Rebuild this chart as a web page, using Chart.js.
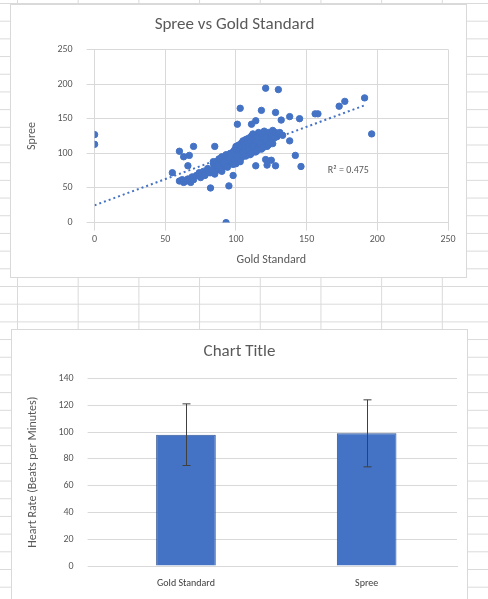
<!DOCTYPE html>
<html><head><meta charset="utf-8">
<script src="https://cdn.jsdelivr.net/npm/chart.js@4"></script>
<style>
html,body{margin:0;padding:0;width:488px;height:599px;overflow:hidden;font-family:Calibri,Carlito,"Open Sans",sans-serif;
background-color:#fff;
background-image:linear-gradient(to right,#dadada 1px,transparent 1px),linear-gradient(to bottom,#dadada 1px,transparent 1px);
background-size:60.7px 17.7px;background-position:17px 3px;}
.box{position:absolute;background:#fff;border:1px solid #d9d9d9;}
canvas{display:block}
</style></head><body>
<div class="box" style="left:10px;top:4px;width:455px;height:272px"><canvas id="c1" width="455" height="272"></canvas></div>
<div class="box" style="left:11px;top:329px;width:455px;height:275px"><canvas id="c2" width="455" height="270"></canvas></div>
<script>
// Scatter data: Gold Standard (x) vs Spree (y)
const goldX = [0,0,121,130,191,196,177,173,158,156,103,118,128,138,145,132,114,111,101,138,142,146,128,122,125,121,114,55,60,63,67,70,66,85,82,95,98,93,
60,62,65,68,70,72,75,78,80,63,66,69,74,77,
80,82,84,85,86,87,88,89,90,90,91,92,93,93,94,95,95,96,96,97,97,98,98,99,99,100,100,100,101,101,102,102,103,103,104,104,105,105,106,106,107,107,108,108,109,110,110,111,111,112,112,113,114,115,115,116,117,118,119,120,120,121,122,123,124,125,126,127,128,129,130,
78,81,83,85,86,88,90,92,94,96,98,100,102,104,106,108,110,112,114,116,118,120,122,124,126,128,
84,87,89,91,93,95,97,99,101,103,105,107,109,111,113,115,117,119,121,123,125,127,131,133];
const spreeY = [127,113,194,192,180,128,175,168,157,157,165,162,159,153,150,148,147,142,142,118,97,81,82,83,90,91,82,72,103,95,97,110,82,110,50,53,68,0,
60,62,60,58,62,68,65,70,75,58,63,66,72,74,
78,72,85,80,88,76,92,84,95,80,90,86,98,82,92,88,96,85,100,90,95,88,102,92,105,98,110,85,100,108,95,112,98,105,115,100,110,118,104,112,120,108,115,105,122,112,118,125,110,120,128,115,122,118,125,130,112,126,120,128,132,118,125,130,122,128,133,126,130,124,128,
68,72,76,70,82,78,74,86,80,90,84,96,88,94,100,104,98,108,102,112,106,116,110,120,114,124,
88,82,92,86,90,94,98,92,96,88,102,96,106,100,110,104,114,108,118,112,116,122,130,126];
const trendX = [0,192];
const trendY = [25,170];

// Bar chart data
const barCats = ['Gold Standard','Spree'];
const barVals = [98,99];
const errLow = [75,74];
const errHigh = [121,124];

const grey='#595959', gridC='#d9d9d9';
const font="Calibri, Carlito, 'Open Sans', sans-serif";

new Chart(document.getElementById('c1'),{
 type:'scatter',
 data:{datasets:[
  {data:goldX.map((x,i)=>({x,y:spreeY[i]})),backgroundColor:'#4472c4',borderColor:'#4472c4',pointRadius:3.2,pointHoverRadius:3.2,order:1},
  {type:'line',data:trendX.map((x,i)=>({x,y:trendY[i]})),borderColor:'#4472c4',borderWidth:2,borderDash:[2,3],pointRadius:0,fill:false,order:0}
 ]},
 options:{responsive:false,animation:false,devicePixelRatio:1,
  layout:{padding:{left:10,right:18,top:4,bottom:6}},
  plugins:{legend:{display:false},tooltip:{enabled:false},
   title:{display:true,text:'Spree vs Gold Standard',color:grey,font:{family:font,size:17,weight:'normal'},padding:{top:6,bottom:14}}},
  scales:{
   x:{type:'linear',min:0,max:250,ticks:{stepSize:50,color:grey,font:{family:font,size:10}},grid:{color:gridC},border:{display:false},
      title:{display:true,text:'Gold Standard',color:grey,font:{family:font,size:12}}},
   y:{min:0,max:250,ticks:{stepSize:50,color:grey,font:{family:font,size:10},padding:14},grid:{color:gridC},border:{display:false},
      title:{display:true,text:'Spree',color:grey,font:{family:font,size:12}}}
  }},
 plugins:[{id:'r2',afterDatasetsDraw(c){const ctx=c.ctx;ctx.save();ctx.fillStyle=grey;ctx.font="10px "+font;
   const px=c.scales.x.getPixelForValue(165),py=c.scales.y.getPixelForValue(72);
   ctx.fillText('R² = 0.475',px,py);ctx.restore();}}]
});

new Chart(document.getElementById('c2'),{
 type:'bar',
 data:{labels:barCats,datasets:[{data:barVals,backgroundColor:'#4472c4',borderColor:'#2f5597',borderWidth:1,barPercentage:0.33,categoryPercentage:1}]},
 options:{responsive:false,animation:false,devicePixelRatio:1,
  layout:{padding:{left:10,right:10,top:4,bottom:8}},
  plugins:{legend:{display:false},tooltip:{enabled:false},
   title:{display:true,text:'Chart Title',color:grey,font:{family:font,size:17,weight:'normal'},padding:{top:8,bottom:16}}},
  scales:{
   x:{grid:{display:false},border:{color:gridC},ticks:{color:'#404040',font:{family:font,size:10}}},
   y:{min:0,max:140,ticks:{stepSize:20,color:grey,font:{family:font,size:10},padding:14},grid:{color:gridC},border:{display:false},
      title:{display:true,text:'Heart Rate (Beats per Minutes)',color:grey,font:{family:font,size:12}}}
  }},
 plugins:[{id:'err',afterDatasetsDraw(c){const ctx=c.ctx,ys=c.scales.y,meta=c.getDatasetMeta(0);ctx.save();ctx.strokeStyle='#404040';ctx.lineWidth=1;
  meta.data.forEach((b,i)=>{const x=Math.round(b.x)+0.5,y1=ys.getPixelForValue(errLow[i]),y2=ys.getPixelForValue(errHigh[i]);
   ctx.beginPath();ctx.moveTo(x,y1);ctx.lineTo(x,y2);ctx.moveTo(x-4,y1);ctx.lineTo(x+4,y1);ctx.moveTo(x-4,y2);ctx.lineTo(x+4,y2);ctx.stroke();});
  ctx.restore();}}]
});
</script>
</body></html>
